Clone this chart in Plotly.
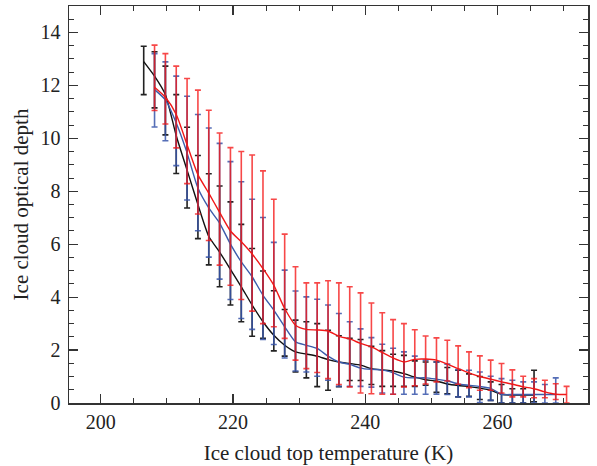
import plotly.graph_objects as go

# Temperature bins (K)
temperature = [206.50, 208.14, 209.78, 211.42, 213.06, 214.70, 216.34, 217.98, 219.62, 221.26,
               222.90, 224.54, 226.18, 227.82, 229.46, 231.10, 232.74, 234.38, 236.02, 237.66,
               239.30, 240.94, 242.58, 244.22, 245.86, 247.50, 249.14, 250.78, 252.42, 254.06,
               255.70, 257.34, 258.98, 260.62, 262.26, 263.90, 265.54, 267.18, 268.82, 270.46]

# Black series (bins 0..36)
black_mean = [12.9, 12.35, 11.65, 10.1, 8.8, 7.5, 6.3, 5.7, 5.05, 4.39, 3.7, 3.07, 2.56, 2.18, 1.93,
              1.85, 1.77, 1.64, 1.55, 1.49, 1.43, 1.3, 1.25, 1.21, 1.11, 0.98, 0.88, 0.83, 0.72,
              0.66, 0.62, 0.56, 0.48, 0.33, 0.3, 0.3, 0.3]
black_top = [13.48, 13.27, 12.73, 11.65, 10.42, 9.35, 8.66, 8.2, 7.6, 6.75, 5.84, 4.99, 4.24, 3.53,
             3.13, 3.07, 3.0, 2.75, 2.54, 2.44, 2.4, 2.14, 1.98, 1.84, 1.8, 1.59, 1.55, 1.55, 1.34,
             1.24, 1.1, 1.0, 0.8, 0.7, 0.54, 0.54, 1.24]
black_bottom = [11.65, 11.15, 10.13, 8.67, 7.37, 6.21, 5.22, 4.39, 3.7, 3.07, 2.52, 2.44, 1.97, 1.77,
                1.17, 0.95, 0.62, 0.48, 0.62, 0.85, 0.85, 0.7, 0.63, 0.63, 0.63, 0.63, 0.67, 0.4,
                0.35, 0.23, 0.25, 0.13, 0.1, 0.0, 0.0, 0.0, 0.05]

# Blue series (bins 1..38)
blue_mean = [11.84, 11.45, 10.58, 9.45, 8.12, 7.37, 6.8, 6.0, 5.33, 4.77, 4.07, 3.51, 2.88, 2.31,
             2.18, 2.06, 1.77, 1.55, 1.46, 1.32, 1.27, 1.25, 1.14, 0.98, 0.95, 0.95, 0.9, 0.84,
             0.72, 0.67, 0.62, 0.55, 0.33, 0.32, 0.32, 0.32, 0.32, 0.32]
blue_top = [13.2, 12.89, 12.35, 11.59, 10.9, 10.39, 9.81, 9.12, 8.36, 7.7, 7.01, 6.07, 5.02, 4.23,
            4.01, 3.92, 3.7, 3.38, 3.07, 2.8, 2.47, 2.22, 2.07, 1.93, 1.77, 1.62, 1.55, 1.47, 1.26,
            1.24, 1.17, 1.01, 0.92, 0.86, 0.8, 0.8, 0.7, 0.95]
blue_bottom = [10.43, 9.91, 8.97, 7.67, 6.51, 5.51, 4.68, 3.91, 3.19, 2.78, 2.4, 2.21, 1.7, 1.21,
               1.17, 1.01, 0.86, 0.63, 0.63, 0.63, 0.6, 0.38, 0.33, 0.33, 0.33, 0.33, 0.33, 0.32,
               0.23, 0.23, 0.02, 0.1, 0.0, 0.0, 0.0, 0.0, 0.0, 0.0]

# Red series (bins 1..39)
red_mean = [11.93, 11.55, 10.9, 9.76, 8.63, 7.93, 7.2, 6.5, 6.09, 5.63, 5.08, 4.45, 3.57, 2.94,
            2.78, 2.76, 2.72, 2.52, 2.42, 2.25, 2.12, 1.91, 1.7, 1.55, 1.65, 1.66, 1.62, 1.47,
            1.3, 1.14, 1.0, 0.9, 0.8, 0.71, 0.61, 0.54, 0.42, 0.33, 0.32]
red_top = [13.52, 13.2, 12.73, 12.26, 11.82, 11.06, 10.2, 9.65, 9.5, 9.37, 8.77, 7.7, 6.38, 5.15,
           4.54, 4.54, 4.62, 4.54, 4.39, 4.16, 3.78, 3.41, 3.15, 3.0, 2.77, 2.53, 2.46, 2.37,
           2.16, 1.93, 1.78, 1.62, 1.49, 1.25, 1.01, 0.92, 0.86, 0.73, 0.63]
red_bottom = [11.05, 10.54, 9.64, 8.29, 7.14, 6.14, 5.21, 4.45, 3.91, 3.47, 3.0, 2.88, 2.44, 1.62,
              1.3, 1.15, 0.92, 0.7, 0.61, 0.38, 0.35, 0.33, 0.33, 0.61, 0.65, 0.72, 0.8, 0.83,
              0.71, 0.58, 0.48, 0.48, 0.38, 0.23, 0.23, 0.2, 0.2, 0.13, 0.0]

x_ticks = [200, 220, 240, 260]
y_ticks = [0, 2, 4, 6, 8, 10, 12, 14]

series = [
    (temperature[0:37], black_mean, black_top, black_bottom, "#111111", "rgba(10,10,10,0.9)"),
    (temperature[1:39], blue_mean, blue_top, blue_bottom, "#3b5cab", "rgba(55,85,170,0.85)"),
    (temperature[1:40], red_mean, red_top, red_bottom, "#f01818", "rgba(245,20,20,0.78)"),
]

fig = go.Figure()
for xs, m, t, b, lc, ec in series:
    fig.add_trace(go.Scatter(
        x=xs, y=m, mode="lines",
        line=dict(color=lc, width=1.4, shape="spline", smoothing=0.6),
        error_y=dict(type="data", symmetric=False,
                     array=[ti - mi for ti, mi in zip(t, m)],
                     arrayminus=[mi - bi for mi, bi in zip(m, b)],
                     color=ec, thickness=1.6, width=3),
        showlegend=False, hoverinfo="skip",
    ))

FONT = "Liberation Serif, serif"
axis_common = dict(
    showline=True, linecolor="#333333", linewidth=1.5, mirror="allticks",
    ticks="inside", ticklen=9, tickwidth=1.2, tickcolor="#333333",
    showgrid=False, zeroline=False, automargin=False,
    tickfont=dict(family=FONT, size=20, color="#222222"),
    title_font=dict(family=FONT, size=21, color="#222222"),
)

fig.update_xaxes(**axis_common, range=[195.2, 273.7], tickvals=x_ticks,
                 minor=dict(dtick=5, tick0=195, ticks="inside", ticklen=5, tickcolor="#333333", tickwidth=1),
                 title_text="Ice cloud top temperature (K)", title_standoff=14)
fig.update_yaxes(**axis_common, range=[0, 15], tickvals=y_ticks,
                 minor=dict(dtick=0.5, tick0=0, ticks="inside", ticklen=5, tickcolor="#333333", tickwidth=1),
                 title_text="Ice cloud optical depth", title_standoff=6, ticklabelstandoff=3)

fig.update_layout(
    width=597, height=466,
    margin=dict(l=69, r=9, t=6, b=63),
    plot_bgcolor="white", paper_bgcolor="white",
)

fig.write_html("out.html",
               config={"displayModeBar": False, "staticPlot": True},
               post_script="document.body.style.margin='0px';document.body.style.overflow='hidden';")
